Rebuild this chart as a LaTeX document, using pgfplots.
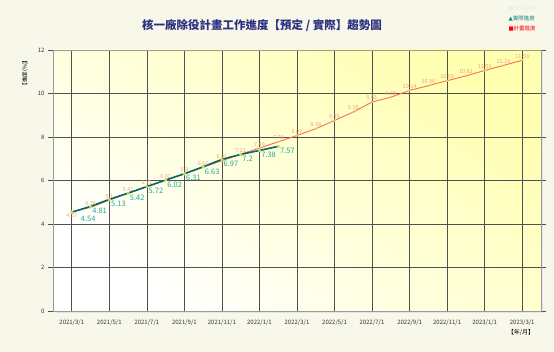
\documentclass[border=0pt]{standalone}
\usepackage{pgfplots}
\usepackage{pgfplotstable}
\pgfplotsset{compat=1.18}
\usepackage{fontspec}
\setmainfont{Noto Sans CJK TC}
\newfontfamily\symfont{DejaVu Sans}
\definecolor{bgc}{HTML}{F8F8EA}
\definecolor{titlec}{HTML}{2B2F7F}
\definecolor{planc}{HTML}{FF6A5A}
\definecolor{planlab}{HTML}{F0A080}
\definecolor{actc}{HTML}{00686B}
\definecolor{actlab}{HTML}{1FA9A0}
\definecolor{markc}{HTML}{C8D850}
\definecolor{gridc}{HTML}{505050}
\definecolor{framec}{HTML}{9A9A9A}
\definecolor{plotyel}{HTML}{FFFFB0}

\pgfplotstableread{
x y lab
0 4.57 {}
1 4.76 4.76
2 5.10 5.1
3 5.41 5.41
4 5.72 5.72
5 6.02 6.02
6 6.30 6.3
7 6.61 6.61
8 6.91 6.91
9 7.21 7.21
10 7.49 7.49
11 7.78 7.78
12 8.07 8.07
13 8.38 8.38
14 8.76 8.76
15 9.15 9.15
16 9.61 9.61
17 9.83 9.83
18 10.14 10.14
19 10.36 10.36
20 10.59 10.59
21 10.81 10.81
22 11.06 11.06
23 11.29 11.29
24 11.53 11.53
}\plandata

\pgfplotstableread{
x y lab
0 4.54 {}
1 4.81 4.81
2 5.13 5.13
3 5.42 5.42
4 5.72 5.72
5 6.02 6.02
6 6.31 6.31
7 6.63 6.63
8 6.97 6.97
9 7.20 7.2
10 7.38 7.38
11 7.57 7.57
}\actdata

\begin{document}
\begin{tikzpicture}
\fill[bgc] (0,0) rectangle (554pt,352pt);
\fill[black!10] (55pt,39pt) rectangle (543pt,300pt);
\begin{axis}[
  at={(53pt,41pt)}, anchor=south west,
  scale only axis, width=488pt, height=261pt,
  xmin=-1, xmax=25, ymin=0, ymax=12,
  xtick={0,2,...,24},
  xticklabels={2021/3/1,2021/5/1,2021/7/1,2021/9/1,2021/11/1,2022/1/1,2022/3/1,2022/5/1,2022/7/1,2022/9/1,2022/11/1,2023/1/1,2023/3/1},
  ytick={0,2,...,12},
  grid=major,
  major grid style={gridc, line width=0.6pt},
  axis line style={framec, line width=0.8pt},
  tick align=outside,
  major tick length=5pt,
  tick style={gridc, line width=0.5pt},
  xtick style={draw=none},
  ticklabel style={font=\fontsize{6}{7}\selectfont, text=black!80},
  /pgf/number format/assume math mode=true,
  axis background/.style={bottom color=white, top color=plotyel, shading angle=-35},
  clip=false,
]
\addplot[planc, line width=0.9pt, mark=*, mark size=0.6pt,
  mark options={markc, draw=markc},
  nodes near coords, point meta=explicit symbolic,
  every node near coord/.append style={font=\fontsize{5.5}{6}\selectfont, text=planlab, anchor=south, inner sep=1.5pt}]
  table[x=x, y=y, meta=lab] {\plandata};
\addplot[draw=none, mark=none, nodes near coords, point meta=explicit symbolic,
  every node near coord/.append style={font=\fontsize{5.5}{6}\selectfont, text=planlab, anchor=north, inner sep=1.5pt}]
  coordinates {(0,4.57) [4.57]};
\addplot[actc, line width=1.6pt, mark=*, mark size=0.6pt,
  mark options={markc, draw=markc},
  nodes near coords, point meta=explicit symbolic,
  every node near coord/.append style={font=\fontsize{7.5}{8}\selectfont, text=actlab, anchor=north west, inner sep=1pt}]
  table[x=x, y=y, meta=lab] {\actdata};
\addplot[draw=none, mark=none, nodes near coords, point meta=explicit symbolic,
  every node near coord/.append style={font=\fontsize{7.5}{8}\selectfont, text=actlab, anchor=north west, inner sep=1pt, xshift=8pt, yshift=-3pt}]
  coordinates {(0,4.54) [4.54]};
\end{axis}
\node[font=\fontsize{11.5}{13}\selectfont\bfseries, text=titlec] at (262pt,326pt) {核一廠除役計畫工作進度【預定 / 實際】趨勢圖};
\node[font=\fontsize{5.5}{6}\selectfont, text=black!8, anchor=west] at (505pt,343pt) {{\symfont ■}預估進度};
\node[font=\fontsize{5.5}{6}\selectfont, text=actlab!80!black, anchor=west] at (505pt,333pt) {{\symfont ▲}實際進度};
\node[font=\fontsize{5.5}{6}\selectfont, text=red, anchor=west] at (505pt,323pt) {{\symfont ■}計畫進度};
\node[font=\fontsize{5.5}{6}\selectfont, rotate=90, anchor=east] at (25pt,298pt) {【進度(\%)】};
\node[font=\fontsize{6}{7}\selectfont, anchor=center] at (521pt,19pt) {【年/月】};
\end{tikzpicture}
\end{document}
